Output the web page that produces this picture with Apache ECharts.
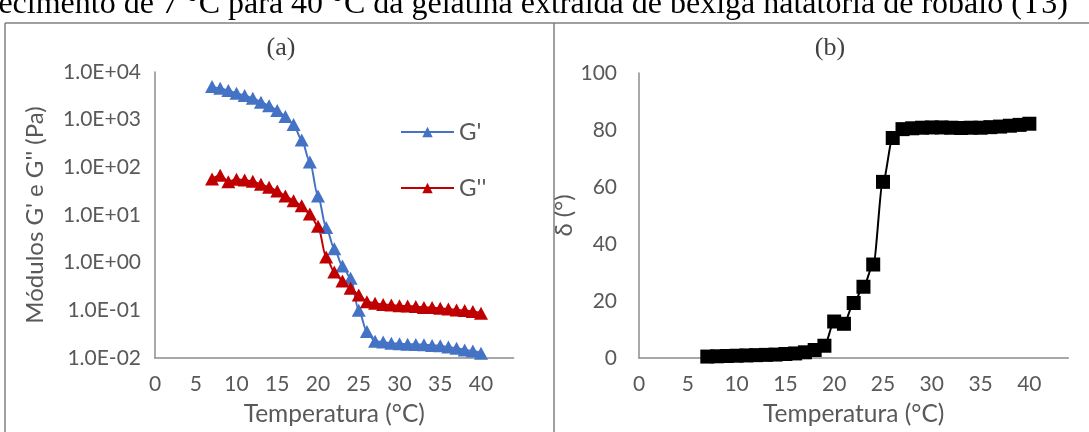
<!DOCTYPE html>
<html>
<head>
<meta charset="utf-8">
<script src="https://cdn.jsdelivr.net/npm/echarts@6/dist/echarts.min.js"></script>
<style>
html,body{margin:0;padding:0;background:#fff;}
#chart{width:1089px;height:432px;}
</style>
</head>
<body>
<div id="chart"></div>
<script>
// Temperatures (°C)
const temps = [7,8,9,10,11,12,13,14,15,16,17,18,19,20,21,22,23,24,25,26,27,28,29,30,31,32,33,34,35,36,37,38,39,40];
// G' (Pa)
const gPrime = [4940,4570,4080,3600,3200,2820,2330,1960,1560,1170,790,373,129,25,5.5,1.95,0.85,0.47,0.10,0.036,0.0224,0.0216,0.0204,0.0199,0.0195,0.0193,0.019,0.0184,0.018,0.017,0.016,0.0148,0.0141,0.0126];
// G'' (Pa)
const gDouble = [57,68,50,56,54,51,44,38,32,25,20,15.6,10.5,5.8,1.31,0.64,0.41,0.29,0.21,0.152,0.14,0.133,0.129,0.125,0.123,0.12,0.115,0.114,0.11,0.107,0.102,0.099,0.094,0.087];
// delta (°)
const delta = [0.5,0.6,0.7,0.8,0.9,1.0,1.1,1.2,1.4,1.6,2.0,2.8,4.3,12.8,12.0,19.3,25,32.8,61.8,77.2,80.3,80.6,80.8,80.9,80.9,80.8,80.7,80.8,80.8,81.0,81.2,81.5,81.8,82.2];
const xTicks = [0,5,10,15,20,25,30,35,40];
const logTicks = ['1.0E-02','1.0E-01','1.0E+00','1.0E+01','1.0E+02','1.0E+03','1.0E+04'];
const deltaTicks = [0,20,40,60,80,100];

const FONT = 'Lato';
const GRAY = '#595959';
const AXIS = '#8c8c8c';

function pairs(ys){ return temps.map((t,i)=>[t, ys[i]]); }
function logLabel(v){
  const e = Math.round(Math.log10(v));
  const lbl = '1.0E' + (e<0?'-':'+') + String(Math.abs(e)).padStart(2,'0');
  return logTicks.indexOf(lbl) >= 0 ? lbl : '';
}

const chart = echarts.init(document.getElementById('chart'), null, {renderer:'canvas'});
const xAxisBase = {
  type:'value', min:0, max:44, interval:5,
  axisLine:{show:true, lineStyle:{color:AXIS, width:1.5}},
  axisTick:{show:false}, splitLine:{show:false},
  axisLabel:{color:GRAY, fontFamily:FONT, fontSize:21, margin:16, showMaxLabel:false,
    formatter:v=> xTicks.indexOf(v)>=0 ? String(v) : ''},
  name:'Temperatura (°C)', nameLocation:'middle', nameGap:44,
  nameTextStyle:{color:GRAY, fontFamily:FONT, fontSize:24.5}
};
chart.setOption({
  animation:false,
  textStyle:{fontFamily:FONT},
  grid:[
    {left:155, top:72, width:358.6, height:288},
    {left:639, top:73, width:429.4, height:286}
  ],
  xAxis:[
    Object.assign({gridIndex:0}, xAxisBase),
    Object.assign({gridIndex:1}, xAxisBase)
  ],
  yAxis:[
    {gridIndex:0, type:'log', logBase:10, min:0.01, max:10000,
      axisLine:{show:true, lineStyle:{color:AXIS, width:1.5}},
      axisTick:{show:false}, splitLine:{show:false},
      axisLabel:{color:GRAY, fontFamily:FONT, fontSize:21, margin:14, formatter:logLabel},
      name:"Módulos G' e G'' (Pa)", nameLocation:'middle', nameGap:108,
      nameTextStyle:{color:GRAY, fontFamily:FONT, fontSize:24}},
    {gridIndex:1, type:'value', min:0, max:100, interval:20,
      axisLine:{show:true, lineStyle:{color:AXIS, width:1.5}},
      axisTick:{show:false}, splitLine:{show:false},
      axisLabel:{color:GRAY, fontFamily:FONT, fontSize:21, margin:22,
        formatter:v=> deltaTicks.indexOf(v)>=0 ? String(v) : ''},
      name:'δ (°)', nameLocation:'middle', nameGap:42,
      nameTextStyle:{color:GRAY, fontFamily:FONT, fontSize:24}}
  ],
  legend:{
    left:400, top:120, orient:'vertical', itemWidth:53, itemHeight:13, itemGap:32,
    padding:0, textStyle:{color:GRAY, fontFamily:FONT, fontSize:24},
    data:["G'","G''"]
  },
  series:[
    {name:"G'", type:'line', xAxisIndex:0, yAxisIndex:0, data:pairs(gPrime),
      smooth:0.3, smoothMonotone:'x', symbol:'triangle', symbolSize:[14,13],
      itemStyle:{color:'#4472C4'}, lineStyle:{color:'#4472C4', width:2}},
    {name:"G''", type:'line', xAxisIndex:0, yAxisIndex:0, data:pairs(gDouble),
      smooth:0.3, smoothMonotone:'x', symbol:'triangle', symbolSize:[14,13],
      itemStyle:{color:'#C00000'}, lineStyle:{color:'#C00000', width:2}},
    {name:'δ', type:'line', xAxisIndex:1, yAxisIndex:1, data:pairs(delta),
      smooth:0.3, smoothMonotone:'x', symbol:'rect', symbolSize:14,
      itemStyle:{color:'#000'}, lineStyle:{color:'#000', width:2}}
  ],
  graphic:[
    {type:'text', style:{x:1068, y:5, text:'durante o aquecimento de 7 °C para 40 °C da gelatina extraída de bexiga natatória de robalo (T3)',
      font:'32px "Liberation Serif"', fill:'#000', textAlign:'right', textVerticalAlign:'middle'}},
    {type:'line', shape:{x1:5, y1:23, x2:1089, y2:23}, style:{stroke:'#7f7f7f', lineWidth:1.5}},
    {type:'line', shape:{x1:5, y1:23, x2:5, y2:432}, style:{stroke:'#7f7f7f', lineWidth:1.5}},
    {type:'line', shape:{x1:554, y1:23, x2:554, y2:432}, style:{stroke:'#7f7f7f', lineWidth:1.5}},
    {type:'text', style:{x:281, y:48, text:'(a)', font:'26px "Liberation Serif"', fill:'#404040', textAlign:'center', textVerticalAlign:'middle'}},
    {type:'text', style:{x:830, y:48, text:'(b)', font:'26px "Liberation Serif"', fill:'#404040', textAlign:'center', textVerticalAlign:'middle'}}
  ]
});
</script>
</body>
</html>
